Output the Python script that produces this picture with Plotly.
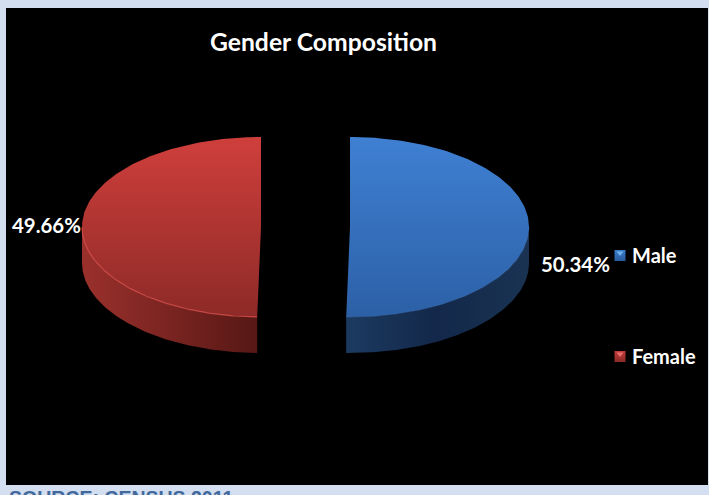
import numpy as np
import plotly.graph_objects as go

# Census shares, in percent
categories = ["Male", "Female"]
shares = [50.34, 49.66]
chart_title = "Gender Composition"
source_note = "SOURCE: CENSUS 2011"

# Gradient stops: top face (far, near) and outer wall (left, middle, right)
top_colors = {"Male": ["#3f80d3", "#2c60a6"], "Female": ["#cf3f3c", "#8d2a27"]}
wall_colors = {
    "Male": ["#1c3a60", "#13284a", "#1a3353"],
    "Female": ["#9a302c", "#7a2421", "#561815"],
}
rim_colors = {"Male": "rgba(90,150,225,0.2)", "Female": "rgba(235,90,85,0.7)"}
key_colors = {"Male": ["#3a7cc9", "#2a5c9e"], "Female": ["#c43a37", "#8a2a27"]}
key_glints = {"Male": "#6fb4f0", "Female": "#e8706c"}

# Projection of the tilted pie, in units of the horizontal radius
TILT = 90 / 179
DEPTH = 36 / 179
EXPLODE = 44.5 / 179

W, H = 709, 495
PX = 179.0  # pixels per pie unit
CX, CY = 305.5, 227.0
MARGIN = dict(l=6, r=1, t=8, b=10)


def sx(px):
    return (px - CX) / PX


def sy(py):
    return (CY - py) / PX


def arc(start, stop, n=160):
    return np.radians(np.linspace(start, stop, n))


fig = go.Figure()

start = 0.0
total = sum(shares)
for name, share in zip(categories, shares):
    stop = start + 360.0 * share / total
    mid = np.radians((start + stop) / 2)
    # Exploded slices slide out sideways along their middle direction
    dx = EXPLODE * np.sign(np.sin(mid))
    t = arc(start, stop)
    x_edge = dx + np.sin(t)
    y_edge = TILT * np.cos(t)

    # Outer wall: only the part of the rim on the near side is visible
    near = arc(max(start, 90.0), min(stop, 270.0))
    x_near = dx + np.sin(near)
    y_near = TILT * np.cos(near)
    wall = wall_colors[name]
    fig.add_trace(go.Scatter(
        x=np.r_[x_near, x_near[::-1]],
        y=np.r_[y_near, y_near[::-1] - DEPTH],
        mode="lines", fill="toself", line=dict(width=0),
        fillgradient=dict(
            type="horizontal",
            colorscale=[[0, wall[0]], [0.5, wall[1]], [1, wall[2]]],
        ),
        showlegend=False, hoverinfo="skip",
    ))

    # Top face, closed through the centre of the pie
    fig.add_trace(go.Scatter(
        x=np.r_[dx, x_edge, dx],
        y=np.r_[0.0, y_edge, 0.0],
        mode="lines", fill="toself", line=dict(width=0),
        fillgradient=dict(
            type="vertical",
            colorscale=[[0, top_colors[name][1]], [1, top_colors[name][0]]],
        ),
        showlegend=False, hoverinfo="skip",
    ))

    # Bevel highlight on the near edge of the top face
    fig.add_trace(go.Scatter(
        x=x_near, y=y_near, mode="lines",
        line=dict(color=rim_colors[name], width=1.2),
        showlegend=False, hoverinfo="skip",
    ))
    start = stop

label_font = dict(family="Lato", size=20.4, color="#ffffff", weight=700)
fig.add_annotation(x=sx(575.5), y=sy(264), text=f"{shares[0]:.2f}%",
                   showarrow=False, font=label_font)
fig.add_annotation(x=sx(46.5), y=sy(225), text=f"{shares[1]:.2f}%",
                   showarrow=False, font=label_font)

# Key entries: bevelled square swatch with its name beside it
key_rows = {"Male": 255.5, "Female": 356.5}
for name in categories:
    row = key_rows[name]
    fig.add_trace(go.Scatter(
        x=[sx(620)], y=[sy(row)], mode="markers",
        marker=dict(
            symbol="square", size=11, color=key_colors[name][0],
            gradient=dict(type="vertical", color=key_colors[name][1]),
            line=dict(width=0),
        ),
        showlegend=False, hoverinfo="skip",
    ))
    fig.add_trace(go.Scatter(
        x=[sx(620)], y=[sy(row - 2.5)], mode="markers",
        marker=dict(symbol="triangle-down", size=6, color=key_glints[name],
                    line=dict(width=0)),
        showlegend=False, hoverinfo="skip",
    ))
    fig.add_annotation(
        x=sx(631), y=sy(row - 0.5), text=name, showarrow=False, xanchor="left",
        xshift=-1, font=dict(family="Lato", size=20, color="#ffffff", weight=700),
    )

fig.add_annotation(
    xref="paper", yref="paper", x=(8 - MARGIN["l"]) / (W - MARGIN["l"] - MARGIN["r"]),
    y=-(486 - (H - MARGIN["b"])) / (H - MARGIN["t"] - MARGIN["b"]),
    xanchor="left", yanchor="top", text=source_note, showarrow=False,
    font=dict(family="Liberation Sans", size=19.5, color="#42699c", weight=700),
    borderpad=0,
)

fig.update_layout(
    width=W, height=H, margin=MARGIN,
    paper_bgcolor="#d3dff0", plot_bgcolor="#000000",
    title=dict(
        text=chart_title, x=323.5 / W, y=1 - 42 / H,
        xanchor="center", yanchor="middle",
        font=dict(family="Lato", size=24.7, color="#ffffff", weight=700),
    ),
    xaxis=dict(visible=False, range=[sx(MARGIN["l"]), sx(W - MARGIN["r"])], fixedrange=True),
    yaxis=dict(visible=False, range=[sy(H - MARGIN["b"]), sy(MARGIN["t"])], fixedrange=True),
    showlegend=False,
    hovermode=False,
)

fig.write_html("out.html", config=dict(displayModeBar=False))
